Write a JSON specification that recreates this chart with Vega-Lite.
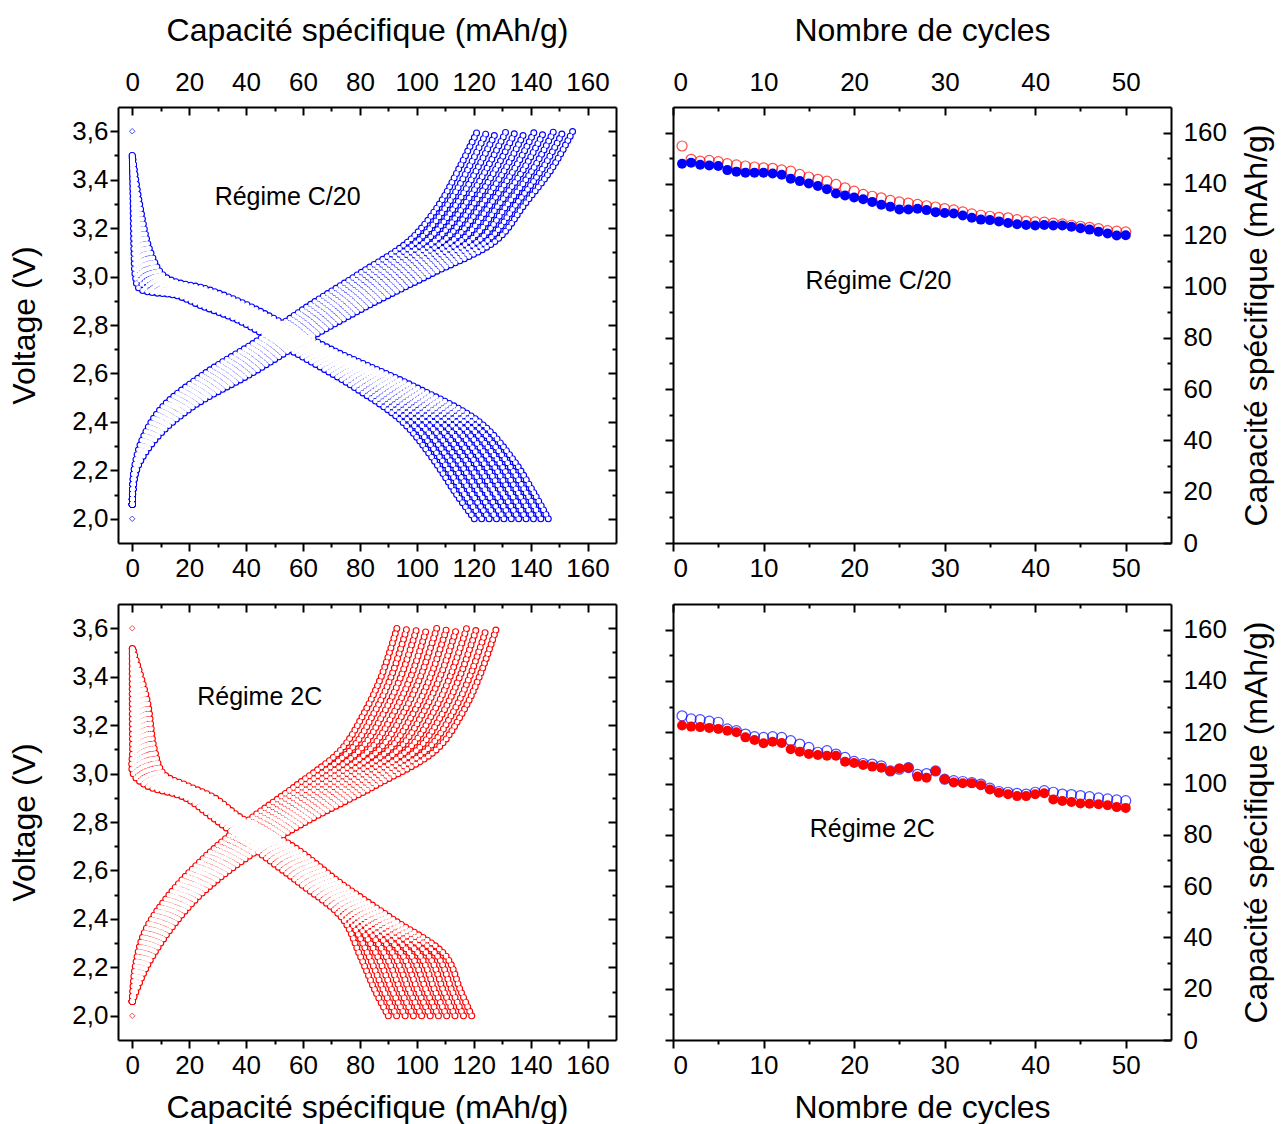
{
  "$schema": "https://vega.github.io/schema/vega-lite/v6.json",
  "padding": {"left": 8, "top": 14, "right": 8, "bottom": 6},
  "background": "white",
  "config": {
    "font": "Liberation Sans",
    "view": {"stroke": null},
    "axis": {
      "grid": false,
      "domainColor": "black",
      "domainWidth": 2,
      "tickColor": "black",
      "tickWidth": 2,
      "labelColor": "black",
      "titleColor": "black",
      "labelFont": "Liberation Sans",
      "titleFont": "Liberation Sans",
      "labelFontSize": 26,
      "titleFontSize": 32,
      "titleFontWeight": "normal"
    }
  },
  "datasets": {
    "c20": [
      {"c":50,"b":"c","q":0,"v":2.06},{"c":50,"b":"c","q":0.6,"v":2.2},{"c":50,"b":"c","q":3.6,"v":2.33},{"c":50,"b":"c","q":10.5,"v":2.46},{"c":50,"b":"c","q":25.5,"v":2.6},{"c":50,"b":"c","q":44.6,"v":2.74},{"c":50,"b":"c","q":62,"v":2.88},{"c":50,"b":"c","q":79.5,"v":3.01},{"c":50,"b":"c","q":97.5,"v":3.15},{"c":50,"b":"c","q":108,"v":3.3},{"c":50,"b":"c","q":115,"v":3.45},{"c":50,"b":"c","q":121.3,"v":3.6},
      {"c":45,"b":"c","q":0,"v":2.06},{"c":45,"b":"c","q":0.7,"v":2.2},{"c":45,"b":"c","q":4.1,"v":2.33},{"c":45,"b":"c","q":11.6,"v":2.46},{"c":45,"b":"c","q":27.2,"v":2.6},{"c":45,"b":"c","q":46.3,"v":2.74},{"c":45,"b":"c","q":64.1,"v":2.88},{"c":45,"b":"c","q":82.1,"v":3.01},{"c":45,"b":"c","q":100.6,"v":3.15},{"c":45,"b":"c","q":111,"v":3.3},{"c":45,"b":"c","q":118.3,"v":3.45},{"c":45,"b":"c","q":124.7,"v":3.6},
      {"c":40,"b":"c","q":0,"v":2.06},{"c":40,"b":"c","q":0.8,"v":2.2},{"c":40,"b":"c","q":4.5,"v":2.33},{"c":40,"b":"c","q":12.6,"v":2.46},{"c":40,"b":"c","q":28.8,"v":2.6},{"c":40,"b":"c","q":48,"v":2.74},{"c":40,"b":"c","q":66.2,"v":2.88},{"c":40,"b":"c","q":84.6,"v":3.01},{"c":40,"b":"c","q":103.6,"v":3.15},{"c":40,"b":"c","q":114,"v":3.3},{"c":40,"b":"c","q":121.5,"v":3.45},{"c":40,"b":"c","q":128,"v":3.6},
      {"c":35,"b":"c","q":0,"v":2.06},{"c":35,"b":"c","q":0.9,"v":2.2},{"c":35,"b":"c","q":5,"v":2.33},{"c":35,"b":"c","q":13.7,"v":2.46},{"c":35,"b":"c","q":30.5,"v":2.6},{"c":35,"b":"c","q":49.7,"v":2.74},{"c":35,"b":"c","q":68.3,"v":2.88},{"c":35,"b":"c","q":87.2,"v":3.01},{"c":35,"b":"c","q":106.7,"v":3.15},{"c":35,"b":"c","q":117,"v":3.3},{"c":35,"b":"c","q":124.8,"v":3.45},{"c":35,"b":"c","q":131.4,"v":3.6},
      {"c":30,"b":"c","q":0,"v":2.06},{"c":30,"b":"c","q":1,"v":2.2},{"c":30,"b":"c","q":5.5,"v":2.33},{"c":30,"b":"c","q":14.7,"v":2.46},{"c":30,"b":"c","q":32.1,"v":2.6},{"c":30,"b":"c","q":51.4,"v":2.74},{"c":30,"b":"c","q":70.4,"v":2.88},{"c":30,"b":"c","q":89.7,"v":3.01},{"c":30,"b":"c","q":109.7,"v":3.15},{"c":30,"b":"c","q":120,"v":3.3},{"c":30,"b":"c","q":128.1,"v":3.45},{"c":30,"b":"c","q":134.7,"v":3.6},
      {"c":25,"b":"c","q":0,"v":2.06},{"c":25,"b":"c","q":1.1,"v":2.2},{"c":25,"b":"c","q":6,"v":2.33},{"c":25,"b":"c","q":15.8,"v":2.46},{"c":25,"b":"c","q":33.8,"v":2.6},{"c":25,"b":"c","q":53.1,"v":2.74},{"c":25,"b":"c","q":72.5,"v":2.88},{"c":25,"b":"c","q":92.3,"v":3.01},{"c":25,"b":"c","q":112.8,"v":3.15},{"c":25,"b":"c","q":123,"v":3.3},{"c":25,"b":"c","q":131.4,"v":3.45},{"c":25,"b":"c","q":138.1,"v":3.6},
      {"c":20,"b":"c","q":0,"v":2.06},{"c":20,"b":"c","q":1.1,"v":2.2},{"c":20,"b":"c","q":6.4,"v":2.33},{"c":20,"b":"c","q":16.8,"v":2.46},{"c":20,"b":"c","q":35.4,"v":2.6},{"c":20,"b":"c","q":54.7,"v":2.74},{"c":20,"b":"c","q":74.6,"v":2.88},{"c":20,"b":"c","q":94.8,"v":3.01},{"c":20,"b":"c","q":115.8,"v":3.15},{"c":20,"b":"c","q":126,"v":3.3},{"c":20,"b":"c","q":134.6,"v":3.45},{"c":20,"b":"c","q":141.4,"v":3.6},
      {"c":15,"b":"c","q":0,"v":2.06},{"c":15,"b":"c","q":1.2,"v":2.2},{"c":15,"b":"c","q":6.9,"v":2.33},{"c":15,"b":"c","q":17.9,"v":2.46},{"c":15,"b":"c","q":37.1,"v":2.6},{"c":15,"b":"c","q":56.4,"v":2.74},{"c":15,"b":"c","q":76.7,"v":2.88},{"c":15,"b":"c","q":97.4,"v":3.01},{"c":15,"b":"c","q":118.9,"v":3.15},{"c":15,"b":"c","q":129,"v":3.3},{"c":15,"b":"c","q":137.9,"v":3.45},{"c":15,"b":"c","q":144.8,"v":3.6},
      {"c":10,"b":"c","q":0,"v":2.06},{"c":10,"b":"c","q":1.3,"v":2.2},{"c":10,"b":"c","q":7.4,"v":2.33},{"c":10,"b":"c","q":18.9,"v":2.46},{"c":10,"b":"c","q":38.7,"v":2.6},{"c":10,"b":"c","q":58.1,"v":2.74},{"c":10,"b":"c","q":78.8,"v":2.88},{"c":10,"b":"c","q":99.9,"v":3.01},{"c":10,"b":"c","q":121.9,"v":3.15},{"c":10,"b":"c","q":132,"v":3.3},{"c":10,"b":"c","q":141.2,"v":3.45},{"c":10,"b":"c","q":148.1,"v":3.6},
      {"c":5,"b":"c","q":0,"v":2.06},{"c":5,"b":"c","q":1.4,"v":2.2},{"c":5,"b":"c","q":7.8,"v":2.33},{"c":5,"b":"c","q":20,"v":2.46},{"c":5,"b":"c","q":40.4,"v":2.6},{"c":5,"b":"c","q":59.8,"v":2.74},{"c":5,"b":"c","q":80.9,"v":2.88},{"c":5,"b":"c","q":102.5,"v":3.01},{"c":5,"b":"c","q":125,"v":3.15},{"c":5,"b":"c","q":135,"v":3.3},{"c":5,"b":"c","q":144.4,"v":3.45},{"c":5,"b":"c","q":151.5,"v":3.6},
      {"c":1,"b":"c","q":0,"v":2.06},{"c":1,"b":"c","q":1.5,"v":2.2},{"c":1,"b":"c","q":8.3,"v":2.33},{"c":1,"b":"c","q":21,"v":2.46},{"c":1,"b":"c","q":42,"v":2.6},{"c":1,"b":"c","q":61.5,"v":2.74},{"c":1,"b":"c","q":83,"v":2.88},{"c":1,"b":"c","q":105,"v":3.01},{"c":1,"b":"c","q":128,"v":3.15},{"c":1,"b":"c","q":138,"v":3.3},{"c":1,"b":"c","q":147.7,"v":3.45},{"c":1,"b":"c","q":154.8,"v":3.6},
      {"c":50,"b":"d","q":0,"v":3.5},{"c":50,"b":"d","q":0.3,"v":3.3},{"c":50,"b":"d","q":0.6,"v":3.1},{"c":50,"b":"d","q":1.1,"v":3},{"c":50,"b":"d","q":2.5,"v":2.95},{"c":50,"b":"d","q":16,"v":2.92},{"c":50,"b":"d","q":24,"v":2.88},{"c":50,"b":"d","q":37,"v":2.82},{"c":50,"b":"d","q":55,"v":2.7},{"c":50,"b":"d","q":77,"v":2.55},{"c":50,"b":"d","q":95,"v":2.4},{"c":50,"b":"d","q":105.5,"v":2.25},{"c":50,"b":"d","q":114,"v":2.1},{"c":50,"b":"d","q":120.2,"v":2},
      {"c":45,"b":"d","q":0,"v":3.5},{"c":45,"b":"d","q":0.5,"v":3.3},{"c":45,"b":"d","q":1.2,"v":3.1},{"c":45,"b":"d","q":2.1,"v":3},{"c":45,"b":"d","q":4.9,"v":2.95},{"c":45,"b":"d","q":17.7,"v":2.92},{"c":45,"b":"d","q":25.7,"v":2.88},{"c":45,"b":"d","q":38.4,"v":2.82},{"c":45,"b":"d","q":56.5,"v":2.7},{"c":45,"b":"d","q":79.2,"v":2.55},{"c":45,"b":"d","q":97.7,"v":2.4},{"c":45,"b":"d","q":108.3,"v":2.25},{"c":45,"b":"d","q":116.8,"v":2.1},{"c":45,"b":"d","q":122.8,"v":2},
      {"c":40,"b":"d","q":0,"v":3.5},{"c":40,"b":"d","q":0.8,"v":3.3},{"c":40,"b":"d","q":1.8,"v":3.1},{"c":40,"b":"d","q":3.2,"v":3},{"c":40,"b":"d","q":7.2,"v":2.95},{"c":40,"b":"d","q":19.4,"v":2.92},{"c":40,"b":"d","q":27.4,"v":2.88},{"c":40,"b":"d","q":39.8,"v":2.82},{"c":40,"b":"d","q":58,"v":2.7},{"c":40,"b":"d","q":81.3,"v":2.55},{"c":40,"b":"d","q":100.4,"v":2.4},{"c":40,"b":"d","q":111.1,"v":2.25},{"c":40,"b":"d","q":119.5,"v":2.1},{"c":40,"b":"d","q":125.4,"v":2},
      {"c":35,"b":"d","q":0,"v":3.5},{"c":35,"b":"d","q":1,"v":3.3},{"c":35,"b":"d","q":2.4,"v":3.1},{"c":35,"b":"d","q":4.2,"v":3},{"c":35,"b":"d","q":9.6,"v":2.95},{"c":35,"b":"d","q":21.1,"v":2.92},{"c":35,"b":"d","q":29.1,"v":2.88},{"c":35,"b":"d","q":41.2,"v":2.82},{"c":35,"b":"d","q":59.5,"v":2.7},{"c":35,"b":"d","q":83.5,"v":2.55},{"c":35,"b":"d","q":103.1,"v":2.4},{"c":35,"b":"d","q":113.9,"v":2.25},{"c":35,"b":"d","q":122.3,"v":2.1},{"c":35,"b":"d","q":128,"v":2},
      {"c":30,"b":"d","q":0,"v":3.5},{"c":30,"b":"d","q":1.2,"v":3.3},{"c":30,"b":"d","q":3,"v":3.1},{"c":30,"b":"d","q":5.3,"v":3},{"c":30,"b":"d","q":11.9,"v":2.95},{"c":30,"b":"d","q":22.8,"v":2.92},{"c":30,"b":"d","q":30.8,"v":2.88},{"c":30,"b":"d","q":42.6,"v":2.82},{"c":30,"b":"d","q":61,"v":2.7},{"c":30,"b":"d","q":85.6,"v":2.55},{"c":30,"b":"d","q":105.8,"v":2.4},{"c":30,"b":"d","q":116.7,"v":2.25},{"c":30,"b":"d","q":125,"v":2.1},{"c":30,"b":"d","q":130.6,"v":2},
      {"c":25,"b":"d","q":0,"v":3.5},{"c":25,"b":"d","q":1.5,"v":3.3},{"c":25,"b":"d","q":3.6,"v":3.1},{"c":25,"b":"d","q":6.3,"v":3},{"c":25,"b":"d","q":14.3,"v":2.95},{"c":25,"b":"d","q":24.5,"v":2.92},{"c":25,"b":"d","q":32.5,"v":2.88},{"c":25,"b":"d","q":44,"v":2.82},{"c":25,"b":"d","q":62.5,"v":2.7},{"c":25,"b":"d","q":87.8,"v":2.55},{"c":25,"b":"d","q":108.5,"v":2.4},{"c":25,"b":"d","q":119.5,"v":2.25},{"c":25,"b":"d","q":127.8,"v":2.1},{"c":25,"b":"d","q":133.2,"v":2},
      {"c":20,"b":"d","q":0,"v":3.5},{"c":20,"b":"d","q":1.7,"v":3.3},{"c":20,"b":"d","q":4.1,"v":3.1},{"c":20,"b":"d","q":7.3,"v":3},{"c":20,"b":"d","q":16.6,"v":2.95},{"c":20,"b":"d","q":26.2,"v":2.92},{"c":20,"b":"d","q":34.2,"v":2.88},{"c":20,"b":"d","q":45.4,"v":2.82},{"c":20,"b":"d","q":64,"v":2.7},{"c":20,"b":"d","q":89.9,"v":2.55},{"c":20,"b":"d","q":111.2,"v":2.4},{"c":20,"b":"d","q":122.3,"v":2.25},{"c":20,"b":"d","q":130.5,"v":2.1},{"c":20,"b":"d","q":135.8,"v":2},
      {"c":15,"b":"d","q":0,"v":3.5},{"c":15,"b":"d","q":1.9,"v":3.3},{"c":15,"b":"d","q":4.7,"v":3.1},{"c":15,"b":"d","q":8.4,"v":3},{"c":15,"b":"d","q":19,"v":2.95},{"c":15,"b":"d","q":27.9,"v":2.92},{"c":15,"b":"d","q":35.9,"v":2.88},{"c":15,"b":"d","q":46.8,"v":2.82},{"c":15,"b":"d","q":65.5,"v":2.7},{"c":15,"b":"d","q":92.1,"v":2.55},{"c":15,"b":"d","q":113.9,"v":2.4},{"c":15,"b":"d","q":125.1,"v":2.25},{"c":15,"b":"d","q":133.3,"v":2.1},{"c":15,"b":"d","q":138.4,"v":2},
      {"c":10,"b":"d","q":0,"v":3.5},{"c":10,"b":"d","q":2.1,"v":3.3},{"c":10,"b":"d","q":5.3,"v":3.1},{"c":10,"b":"d","q":9.4,"v":3},{"c":10,"b":"d","q":21.3,"v":2.95},{"c":10,"b":"d","q":29.6,"v":2.92},{"c":10,"b":"d","q":37.6,"v":2.88},{"c":10,"b":"d","q":48.2,"v":2.82},{"c":10,"b":"d","q":67,"v":2.7},{"c":10,"b":"d","q":94.2,"v":2.55},{"c":10,"b":"d","q":116.6,"v":2.4},{"c":10,"b":"d","q":127.9,"v":2.25},{"c":10,"b":"d","q":136,"v":2.1},{"c":10,"b":"d","q":141,"v":2},
      {"c":5,"b":"d","q":0,"v":3.5},{"c":5,"b":"d","q":2.4,"v":3.3},{"c":5,"b":"d","q":5.9,"v":3.1},{"c":5,"b":"d","q":10.5,"v":3},{"c":5,"b":"d","q":23.7,"v":2.95},{"c":5,"b":"d","q":31.3,"v":2.92},{"c":5,"b":"d","q":39.3,"v":2.88},{"c":5,"b":"d","q":49.6,"v":2.82},{"c":5,"b":"d","q":68.5,"v":2.7},{"c":5,"b":"d","q":96.4,"v":2.55},{"c":5,"b":"d","q":119.3,"v":2.4},{"c":5,"b":"d","q":130.7,"v":2.25},{"c":5,"b":"d","q":138.8,"v":2.1},{"c":5,"b":"d","q":143.6,"v":2},
      {"c":1,"b":"d","q":0,"v":3.5},{"c":1,"b":"d","q":2.6,"v":3.3},{"c":1,"b":"d","q":6.5,"v":3.1},{"c":1,"b":"d","q":11.5,"v":3},{"c":1,"b":"d","q":26,"v":2.95},{"c":1,"b":"d","q":33,"v":2.92},{"c":1,"b":"d","q":41,"v":2.88},{"c":1,"b":"d","q":51,"v":2.82},{"c":1,"b":"d","q":70,"v":2.7},{"c":1,"b":"d","q":98.5,"v":2.55},{"c":1,"b":"d","q":122,"v":2.4},{"c":1,"b":"d","q":133.5,"v":2.25},{"c":1,"b":"d","q":141.5,"v":2.1},{"c":1,"b":"d","q":146.2,"v":2}
    ],
    "r2c": [
      {"c":50,"b":"c","q":0,"v":2.06},{"c":50,"b":"c","q":1,"v":2.2},{"c":50,"b":"c","q":4.5,"v":2.35},{"c":50,"b":"c","q":13,"v":2.5},{"c":50,"b":"c","q":25,"v":2.65},{"c":50,"b":"c","q":40,"v":2.8},{"c":50,"b":"c","q":57.5,"v":2.95},{"c":50,"b":"c","q":73.5,"v":3.1},{"c":50,"b":"c","q":81.5,"v":3.25},{"c":50,"b":"c","q":87.5,"v":3.4},{"c":50,"b":"c","q":93,"v":3.6},
      {"c":45,"b":"c","q":0,"v":2.06},{"c":45,"b":"c","q":1.4,"v":2.2},{"c":45,"b":"c","q":5.4,"v":2.35},{"c":45,"b":"c","q":14.1,"v":2.5},{"c":45,"b":"c","q":26.5,"v":2.65},{"c":45,"b":"c","q":42.1,"v":2.8},{"c":45,"b":"c","q":60.3,"v":2.95},{"c":45,"b":"c","q":76.9,"v":3.1},{"c":45,"b":"c","q":85,"v":3.25},{"c":45,"b":"c","q":91,"v":3.4},{"c":45,"b":"c","q":96.5,"v":3.6},
      {"c":40,"b":"c","q":0,"v":2.06},{"c":40,"b":"c","q":1.8,"v":2.2},{"c":40,"b":"c","q":6.2,"v":2.35},{"c":40,"b":"c","q":15.2,"v":2.5},{"c":40,"b":"c","q":28,"v":2.65},{"c":40,"b":"c","q":44.2,"v":2.8},{"c":40,"b":"c","q":63.1,"v":2.95},{"c":40,"b":"c","q":80.2,"v":3.1},{"c":40,"b":"c","q":88.4,"v":3.25},{"c":40,"b":"c","q":94.4,"v":3.4},{"c":40,"b":"c","q":100,"v":3.6},
      {"c":35,"b":"c","q":0,"v":2.06},{"c":35,"b":"c","q":2.2,"v":2.2},{"c":35,"b":"c","q":7.1,"v":2.35},{"c":35,"b":"c","q":16.3,"v":2.5},{"c":35,"b":"c","q":29.5,"v":2.65},{"c":35,"b":"c","q":46.3,"v":2.8},{"c":35,"b":"c","q":65.9,"v":2.95},{"c":35,"b":"c","q":83.6,"v":3.1},{"c":35,"b":"c","q":91.9,"v":3.25},{"c":35,"b":"c","q":97.9,"v":3.4},{"c":35,"b":"c","q":103.5,"v":3.6},
      {"c":30,"b":"c","q":0,"v":2.06},{"c":30,"b":"c","q":2.6,"v":2.2},{"c":30,"b":"c","q":7.9,"v":2.35},{"c":30,"b":"c","q":17.4,"v":2.5},{"c":30,"b":"c","q":31,"v":2.65},{"c":30,"b":"c","q":48.4,"v":2.8},{"c":30,"b":"c","q":68.7,"v":2.95},{"c":30,"b":"c","q":86.9,"v":3.1},{"c":30,"b":"c","q":95.3,"v":3.25},{"c":30,"b":"c","q":101.3,"v":3.4},{"c":30,"b":"c","q":107,"v":3.6},
      {"c":25,"b":"c","q":0,"v":2.06},{"c":25,"b":"c","q":3,"v":2.2},{"c":25,"b":"c","q":8.8,"v":2.35},{"c":25,"b":"c","q":18.5,"v":2.5},{"c":25,"b":"c","q":32.5,"v":2.65},{"c":25,"b":"c","q":50.5,"v":2.8},{"c":25,"b":"c","q":71.5,"v":2.95},{"c":25,"b":"c","q":90.3,"v":3.1},{"c":25,"b":"c","q":98.8,"v":3.25},{"c":25,"b":"c","q":104.8,"v":3.4},{"c":25,"b":"c","q":110.5,"v":3.6},
      {"c":20,"b":"c","q":0,"v":2.06},{"c":20,"b":"c","q":3.4,"v":2.2},{"c":20,"b":"c","q":9.6,"v":2.35},{"c":20,"b":"c","q":19.6,"v":2.5},{"c":20,"b":"c","q":34,"v":2.65},{"c":20,"b":"c","q":52.6,"v":2.8},{"c":20,"b":"c","q":74.3,"v":2.95},{"c":20,"b":"c","q":93.6,"v":3.1},{"c":20,"b":"c","q":102.2,"v":3.25},{"c":20,"b":"c","q":108.2,"v":3.4},{"c":20,"b":"c","q":114,"v":3.6},
      {"c":15,"b":"c","q":0,"v":2.06},{"c":15,"b":"c","q":3.8,"v":2.2},{"c":15,"b":"c","q":10.5,"v":2.35},{"c":15,"b":"c","q":20.7,"v":2.5},{"c":15,"b":"c","q":35.5,"v":2.65},{"c":15,"b":"c","q":54.7,"v":2.8},{"c":15,"b":"c","q":77.1,"v":2.95},{"c":15,"b":"c","q":97,"v":3.1},{"c":15,"b":"c","q":105.7,"v":3.25},{"c":15,"b":"c","q":111.7,"v":3.4},{"c":15,"b":"c","q":117.5,"v":3.6},
      {"c":10,"b":"c","q":0,"v":2.06},{"c":10,"b":"c","q":4.2,"v":2.2},{"c":10,"b":"c","q":11.3,"v":2.35},{"c":10,"b":"c","q":21.8,"v":2.5},{"c":10,"b":"c","q":37,"v":2.65},{"c":10,"b":"c","q":56.8,"v":2.8},{"c":10,"b":"c","q":79.9,"v":2.95},{"c":10,"b":"c","q":100.3,"v":3.1},{"c":10,"b":"c","q":109.1,"v":3.25},{"c":10,"b":"c","q":115.1,"v":3.4},{"c":10,"b":"c","q":121,"v":3.6},
      {"c":5,"b":"c","q":0,"v":2.06},{"c":5,"b":"c","q":4.6,"v":2.2},{"c":5,"b":"c","q":12.2,"v":2.35},{"c":5,"b":"c","q":22.9,"v":2.5},{"c":5,"b":"c","q":38.5,"v":2.65},{"c":5,"b":"c","q":58.9,"v":2.8},{"c":5,"b":"c","q":82.7,"v":2.95},{"c":5,"b":"c","q":103.7,"v":3.1},{"c":5,"b":"c","q":112.6,"v":3.25},{"c":5,"b":"c","q":118.6,"v":3.4},{"c":5,"b":"c","q":124.5,"v":3.6},
      {"c":1,"b":"c","q":0,"v":2.06},{"c":1,"b":"c","q":5,"v":2.2},{"c":1,"b":"c","q":13,"v":2.35},{"c":1,"b":"c","q":24,"v":2.5},{"c":1,"b":"c","q":40,"v":2.65},{"c":1,"b":"c","q":61,"v":2.8},{"c":1,"b":"c","q":85.5,"v":2.95},{"c":1,"b":"c","q":107,"v":3.1},{"c":1,"b":"c","q":116,"v":3.25},{"c":1,"b":"c","q":122,"v":3.4},{"c":1,"b":"c","q":128,"v":3.6},
      {"c":50,"b":"d","q":0,"v":3.52},{"c":50,"b":"d","q":0,"v":3.3},{"c":50,"b":"d","q":0.1,"v":3.1},{"c":50,"b":"d","q":0.3,"v":3},{"c":50,"b":"d","q":5,"v":2.95},{"c":50,"b":"d","q":18.5,"v":2.9},{"c":50,"b":"d","q":28,"v":2.82},{"c":50,"b":"d","q":41.5,"v":2.7},{"c":50,"b":"d","q":58.5,"v":2.55},{"c":50,"b":"d","q":74,"v":2.4},{"c":50,"b":"d","q":80,"v":2.25},{"c":50,"b":"d","q":85.5,"v":2.1},{"c":50,"b":"d","q":90,"v":2},
      {"c":45,"b":"d","q":0,"v":3.52},{"c":45,"b":"d","q":0.5,"v":3.3},{"c":45,"b":"d","q":0.9,"v":3.1},{"c":45,"b":"d","q":1.4,"v":3},{"c":45,"b":"d","q":6.5,"v":2.95},{"c":45,"b":"d","q":19.6,"v":2.9},{"c":45,"b":"d","q":29,"v":2.82},{"c":45,"b":"d","q":43,"v":2.7},{"c":45,"b":"d","q":60,"v":2.55},{"c":45,"b":"d","q":75.8,"v":2.4},{"c":45,"b":"d","q":83,"v":2.25},{"c":45,"b":"d","q":88.5,"v":2.1},{"c":45,"b":"d","q":92.9,"v":2},
      {"c":40,"b":"d","q":0,"v":3.52},{"c":40,"b":"d","q":1.1,"v":3.3},{"c":40,"b":"d","q":1.6,"v":3.1},{"c":40,"b":"d","q":2.4,"v":3},{"c":40,"b":"d","q":7.9,"v":2.95},{"c":40,"b":"d","q":20.6,"v":2.9},{"c":40,"b":"d","q":30,"v":2.82},{"c":40,"b":"d","q":44.5,"v":2.7},{"c":40,"b":"d","q":61.4,"v":2.55},{"c":40,"b":"d","q":77.5,"v":2.4},{"c":40,"b":"d","q":86,"v":2.25},{"c":40,"b":"d","q":91.5,"v":2.1},{"c":40,"b":"d","q":95.9,"v":2},
      {"c":35,"b":"d","q":0,"v":3.52},{"c":35,"b":"d","q":1.6,"v":3.3},{"c":35,"b":"d","q":2.4,"v":3.1},{"c":35,"b":"d","q":3.5,"v":3},{"c":35,"b":"d","q":9.4,"v":2.95},{"c":35,"b":"d","q":21.7,"v":2.9},{"c":35,"b":"d","q":31,"v":2.82},{"c":35,"b":"d","q":46,"v":2.7},{"c":35,"b":"d","q":62.9,"v":2.55},{"c":35,"b":"d","q":79.3,"v":2.4},{"c":35,"b":"d","q":89,"v":2.25},{"c":35,"b":"d","q":94.5,"v":2.1},{"c":35,"b":"d","q":98.8,"v":2},
      {"c":30,"b":"d","q":0,"v":3.52},{"c":30,"b":"d","q":2.1,"v":3.3},{"c":30,"b":"d","q":3.2,"v":3.1},{"c":30,"b":"d","q":4.6,"v":3},{"c":30,"b":"d","q":10.8,"v":2.95},{"c":30,"b":"d","q":22.7,"v":2.9},{"c":30,"b":"d","q":32,"v":2.82},{"c":30,"b":"d","q":47.5,"v":2.7},{"c":30,"b":"d","q":64.3,"v":2.55},{"c":30,"b":"d","q":81,"v":2.4},{"c":30,"b":"d","q":92,"v":2.25},{"c":30,"b":"d","q":97.5,"v":2.1},{"c":30,"b":"d","q":101.7,"v":2},
      {"c":25,"b":"d","q":0,"v":3.52},{"c":25,"b":"d","q":2.7,"v":3.3},{"c":25,"b":"d","q":4,"v":3.1},{"c":25,"b":"d","q":5.7,"v":3},{"c":25,"b":"d","q":12.3,"v":2.95},{"c":25,"b":"d","q":23.8,"v":2.9},{"c":25,"b":"d","q":33,"v":2.82},{"c":25,"b":"d","q":49,"v":2.7},{"c":25,"b":"d","q":65.8,"v":2.55},{"c":25,"b":"d","q":82.8,"v":2.4},{"c":25,"b":"d","q":95,"v":2.25},{"c":25,"b":"d","q":100.5,"v":2.1},{"c":25,"b":"d","q":104.7,"v":2},
      {"c":20,"b":"d","q":0,"v":3.52},{"c":20,"b":"d","q":3.2,"v":3.3},{"c":20,"b":"d","q":4.7,"v":3.1},{"c":20,"b":"d","q":6.7,"v":3},{"c":20,"b":"d","q":13.7,"v":2.95},{"c":20,"b":"d","q":24.8,"v":2.9},{"c":20,"b":"d","q":34,"v":2.82},{"c":20,"b":"d","q":50.5,"v":2.7},{"c":20,"b":"d","q":67.2,"v":2.55},{"c":20,"b":"d","q":84.5,"v":2.4},{"c":20,"b":"d","q":98,"v":2.25},{"c":20,"b":"d","q":103.5,"v":2.1},{"c":20,"b":"d","q":107.6,"v":2},
      {"c":15,"b":"d","q":0,"v":3.52},{"c":15,"b":"d","q":3.7,"v":3.3},{"c":15,"b":"d","q":5.5,"v":3.1},{"c":15,"b":"d","q":7.8,"v":3},{"c":15,"b":"d","q":15.2,"v":2.95},{"c":15,"b":"d","q":25.9,"v":2.9},{"c":15,"b":"d","q":35,"v":2.82},{"c":15,"b":"d","q":52,"v":2.7},{"c":15,"b":"d","q":68.7,"v":2.55},{"c":15,"b":"d","q":86.3,"v":2.4},{"c":15,"b":"d","q":101,"v":2.25},{"c":15,"b":"d","q":106.5,"v":2.1},{"c":15,"b":"d","q":110.5,"v":2},
      {"c":10,"b":"d","q":0,"v":3.52},{"c":10,"b":"d","q":4.2,"v":3.3},{"c":10,"b":"d","q":6.3,"v":3.1},{"c":10,"b":"d","q":8.9,"v":3},{"c":10,"b":"d","q":16.6,"v":2.95},{"c":10,"b":"d","q":26.9,"v":2.9},{"c":10,"b":"d","q":36,"v":2.82},{"c":10,"b":"d","q":53.5,"v":2.7},{"c":10,"b":"d","q":70.1,"v":2.55},{"c":10,"b":"d","q":88,"v":2.4},{"c":10,"b":"d","q":104,"v":2.25},{"c":10,"b":"d","q":109.5,"v":2.1},{"c":10,"b":"d","q":113.4,"v":2},
      {"c":5,"b":"d","q":0,"v":3.52},{"c":5,"b":"d","q":4.8,"v":3.3},{"c":5,"b":"d","q":7,"v":3.1},{"c":5,"b":"d","q":9.9,"v":3},{"c":5,"b":"d","q":18.1,"v":2.95},{"c":5,"b":"d","q":28,"v":2.9},{"c":5,"b":"d","q":37,"v":2.82},{"c":5,"b":"d","q":55,"v":2.7},{"c":5,"b":"d","q":71.6,"v":2.55},{"c":5,"b":"d","q":89.8,"v":2.4},{"c":5,"b":"d","q":107,"v":2.25},{"c":5,"b":"d","q":112.5,"v":2.1},{"c":5,"b":"d","q":116.4,"v":2},
      {"c":1,"b":"d","q":0,"v":3.52},{"c":1,"b":"d","q":5.3,"v":3.3},{"c":1,"b":"d","q":7.8,"v":3.1},{"c":1,"b":"d","q":11,"v":3},{"c":1,"b":"d","q":19.5,"v":2.95},{"c":1,"b":"d","q":29,"v":2.9},{"c":1,"b":"d","q":38,"v":2.82},{"c":1,"b":"d","q":56.5,"v":2.7},{"c":1,"b":"d","q":73,"v":2.55},{"c":1,"b":"d","q":91.5,"v":2.4},{"c":1,"b":"d","q":110,"v":2.25},{"c":1,"b":"d","q":115.5,"v":2.1},{"c":1,"b":"d","q":119.3,"v":2}
    ],
    "ends": [{"q":0,"v":2.0},{"q":0,"v":3.6}],
    "trc": [
      {"n":1,"y":154.8},{"n":2,"y":149.6},{"n":3,"y":148.9},{"n":4,"y":149.2},{"n":5,"y":148.7},{"n":6,"y":147.9},{"n":7,"y":147.4},{"n":8,"y":147.0},{"n":9,"y":146.6},{"n":10,"y":146.3},
      {"n":11,"y":146.1},{"n":12,"y":145.5},{"n":13,"y":145.0},{"n":14,"y":143.7},{"n":15,"y":142.7},{"n":16,"y":141.8},{"n":17,"y":141.1},{"n":18,"y":139.8},{"n":19,"y":138.5},{"n":20,"y":137.2},
      {"n":21,"y":135.9},{"n":22,"y":135.2},{"n":23,"y":134.6},{"n":24,"y":133.6},{"n":25,"y":133.0},{"n":26,"y":132.5},{"n":27,"y":132.0},{"n":28,"y":131.5},{"n":29,"y":131.0},{"n":30,"y":130.4},
      {"n":31,"y":129.9},{"n":32,"y":129.1},{"n":33,"y":128.3},{"n":34,"y":127.8},{"n":35,"y":127.4},{"n":36,"y":127.0},{"n":37,"y":126.8},{"n":38,"y":126.1},{"n":39,"y":125.5},{"n":40,"y":125.2},
      {"n":41,"y":125.1},{"n":42,"y":124.7},{"n":43,"y":124.4},{"n":44,"y":123.9},{"n":45,"y":123.5},{"n":46,"y":123.1},{"n":47,"y":122.6},{"n":48,"y":121.8},{"n":49,"y":121.6},{"n":50,"y":121.3}
    ],
    "trd": [
      {"n":1,"y":147.9},{"n":2,"y":148.3},{"n":3,"y":147.5},{"n":4,"y":147.2},{"n":5,"y":147.0},{"n":6,"y":145.4},{"n":7,"y":144.8},{"n":8,"y":144.4},{"n":9,"y":144.4},{"n":10,"y":144.4},
      {"n":11,"y":144.1},{"n":12,"y":143.6},{"n":13,"y":142.0},{"n":14,"y":141.1},{"n":15,"y":140.2},{"n":16,"y":139.2},{"n":17,"y":137.9},{"n":18,"y":136.3},{"n":19,"y":135.5},{"n":20,"y":134.7},
      {"n":21,"y":134.0},{"n":22,"y":133.0},{"n":23,"y":131.9},{"n":24,"y":131.1},{"n":25,"y":130.0},{"n":26,"y":130.0},{"n":27,"y":130.3},{"n":28,"y":129.8},{"n":29,"y":129.0},{"n":30,"y":128.7},
      {"n":31,"y":128.5},{"n":32,"y":127.7},{"n":33,"y":126.8},{"n":34,"y":126.1},{"n":35,"y":125.9},{"n":36,"y":125.4},{"n":37,"y":124.8},{"n":38,"y":124.3},{"n":39,"y":124.0},{"n":40,"y":123.8},
      {"n":41,"y":124.0},{"n":42,"y":123.8},{"n":43,"y":123.8},{"n":44,"y":123.3},{"n":45,"y":122.7},{"n":46,"y":122.2},{"n":47,"y":121.4},{"n":48,"y":120.7},{"n":49,"y":119.9},{"n":50,"y":120.0}
    ],
    "brc": [
      {"n":1,"y":126.4},{"n":2,"y":125.2},{"n":3,"y":124.9},{"n":4,"y":124.3},{"n":5,"y":123.9},{"n":6,"y":121.3},{"n":7,"y":120.6},{"n":8,"y":119.3},{"n":9,"y":118.3},{"n":10,"y":118.0},
      {"n":11,"y":118.3},{"n":12,"y":118.0},{"n":13,"y":116.7},{"n":14,"y":115.4},{"n":15,"y":114.1},{"n":16,"y":112.2},{"n":17,"y":112.8},{"n":18,"y":111.5},{"n":19,"y":110.2},{"n":20,"y":108.6},
      {"n":21,"y":107.8},{"n":22,"y":107.6},{"n":23,"y":106.9},{"n":24,"y":104.9},{"n":25,"y":105.6},{"n":26,"y":106.2},{"n":27,"y":103.6},{"n":28,"y":103.9},{"n":29,"y":104.9},{"n":30,"y":101.7},
      {"n":31,"y":101.1},{"n":32,"y":100.8},{"n":33,"y":100.4},{"n":34,"y":99.8},{"n":35,"y":98.2},{"n":36,"y":96.9},{"n":37,"y":96.6},{"n":38,"y":96.2},{"n":39,"y":95.9},{"n":40,"y":96.6},
      {"n":41,"y":97.2},{"n":42,"y":96.6},{"n":43,"y":95.9},{"n":44,"y":95.7},{"n":45,"y":95.3},{"n":46,"y":94.9},{"n":47,"y":94.4},{"n":48,"y":94.0},{"n":49,"y":93.6},{"n":50,"y":93.3}
    ],
    "brd": [
      {"n":1,"y":122.6},{"n":2,"y":122.2},{"n":3,"y":122.0},{"n":4,"y":121.7},{"n":5,"y":121.3},{"n":6,"y":120.6},{"n":7,"y":120.0},{"n":8,"y":118.0},{"n":9,"y":117.0},{"n":10,"y":115.7},
      {"n":11,"y":116.3},{"n":12,"y":115.8},{"n":13,"y":113.4},{"n":14,"y":112.4},{"n":15,"y":111.5},{"n":16,"y":111.1},{"n":17,"y":110.8},{"n":18,"y":110.8},{"n":19,"y":108.5},{"n":20,"y":108.0},
      {"n":21,"y":107.2},{"n":22,"y":106.6},{"n":23,"y":106.2},{"n":24,"y":104.9},{"n":25,"y":105.9},{"n":26,"y":106.2},{"n":27,"y":102.7},{"n":28,"y":102.3},{"n":29,"y":104.9},{"n":30,"y":101.7},
      {"n":31,"y":100.4},{"n":32,"y":100.1},{"n":33,"y":100.1},{"n":34,"y":99.3},{"n":35,"y":97.7},{"n":36,"y":96.4},{"n":37,"y":95.8},{"n":38,"y":95.1},{"n":39,"y":95.1},{"n":40,"y":95.8},
      {"n":41,"y":96.2},{"n":42,"y":93.8},{"n":43,"y":93.2},{"n":44,"y":92.8},{"n":45,"y":92.2},{"n":46,"y":92.1},{"n":47,"y":91.9},{"n":48,"y":91.5},{"n":49,"y":90.8},{"n":50,"y":90.5}
    ]
  },
  "columns": 2,
  "bounds": "flush",
  "spacing": {"row": 61, "column": 57},
  "concat": [
    {
      "width": 498, "height": 436,
      "resolve": {"axis": {"x": "independent", "y": "independent"}},
      "layer": [
        {
          "data": {"name": "c20"},
          "mark": {"type": "line", "interpolate": "catmull-rom", "stroke": "#0000ff", "strokeWidth": 7, "strokeDash": [0, 5], "strokeCap": "round"},
          "encoding": {
            "x": {"field": "q", "type": "quantitative", "scale": {"domain": [-5, 170], "nice": false, "zero": false},
                  "axis": {"orient": "bottom", "values": [0,20,40,60,80,100,120,140,160], "tickSize": 8, "labelPadding": 4, "title": null}},
            "y": {"field": "v", "type": "quantitative", "scale": {"domain": [1.9, 3.7], "nice": false, "zero": false},
                  "axis": {"orient": "left", "values": [2,2.2,2.4,2.6,2.8,3,3.2,3.4,3.6], "tickSize": 8, "labelPadding": 2, "labelExpr": "replace(format(datum.value, '.1f'), '.', ',')", "title": "Voltage (V)", "titlePadding": 30}},
            "detail": [{"field": "c"}, {"field": "b"}],
            "order": {"field": "v"}
          }
        },
        {
          "data": {"name": "c20"},
          "mark": {"type": "line", "interpolate": "catmull-rom", "stroke": "white", "strokeWidth": 4.8, "strokeDash": [0, 5], "strokeCap": "round"},
          "encoding": {
            "x": {"field": "q", "type": "quantitative", "scale": {"domain": [-5, 170], "nice": false, "zero": false},
                  "axis": {"orient": "top", "values": [0,20,40,60,80,100,120,140,160], "tickSize": -8, "labelPadding": 20, "title": "Capacité spécifique (mAh/g)", "titlePadding": 22}},
            "y": {"field": "v", "type": "quantitative", "scale": {"domain": [1.9, 3.7], "nice": false, "zero": false},
                  "axis": {"orient": "right", "values": [2,2.2,2.4,2.6,2.8,3,3.2,3.4,3.6], "tickSize": -8, "labels": false, "title": null}},
            "detail": [{"field": "c"}, {"field": "b"}],
            "order": {"field": "v"}
          }
        },
        {
          "data": {"name": "ends"},
          "mark": {"type": "point", "shape": "diamond", "filled": false, "stroke": "#0000ff", "strokeWidth": 1, "size": 30},
          "encoding": {
            "x": {"field": "q", "type": "quantitative", "scale": {"domain": [-5, 170], "nice": false, "zero": false},
                  "axis": {"orient": "bottom", "values": [10,30,50,70,90,110,130,150], "tickSize": 4, "labels": false, "domain": false, "title": null}},
            "y": {"field": "v", "type": "quantitative", "scale": {"domain": [1.9, 3.7], "nice": false, "zero": false},
                  "axis": {"orient": "left", "values": [2.1,2.3,2.5,2.7,2.9,3.1,3.3,3.5], "tickSize": 4, "labels": false, "domain": false, "title": null}}
          }
        },
        {
          "data": {"values": [{"q": 54.6, "v": 3.33, "t": "Régime C/20"}]},
          "mark": {"type": "text", "fontSize": 25, "color": "black", "align": "center", "baseline": "middle"},
          "encoding": {
            "x": {"field": "q", "type": "quantitative", "scale": {"domain": [-5, 170], "nice": false, "zero": false},
                  "axis": {"orient": "top", "values": [10,30,50,70,90,110,130,150], "tickSize": -4, "labels": false, "domain": false, "title": null}},
            "y": {"field": "v", "type": "quantitative", "scale": {"domain": [1.9, 3.7], "nice": false, "zero": false},
                  "axis": {"orient": "right", "values": [2.1,2.3,2.5,2.7,2.9,3.1,3.3,3.5], "tickSize": -4, "labels": false, "domain": false, "title": null}},
            "text": {"field": "t"}
          }
        }
      ]
    },
    {
      "width": 498, "height": 436,
      "resolve": {"axis": {"x": "independent", "y": "independent"}},
      "layer": [
        {
          "data": {"name": "trc"},
          "mark": {"type": "point", "shape": "circle", "filled": false, "stroke": "#ff0000", "strokeWidth": 1.2, "size": 100},
          "encoding": {
            "x": {"field": "n", "type": "quantitative", "scale": {"domain": [0, 55], "nice": false, "zero": false},
                  "axis": {"orient": "top", "values": [0,10,20,30,40,50], "tickSize": -8, "labelPadding": 20, "title": "Nombre de cycles", "titlePadding": 22}},
            "y": {"field": "y", "type": "quantitative", "scale": {"domain": [0, 170], "nice": false, "zero": false},
                  "axis": {"orient": "left", "values": [0,20,40,60,80,100,120,140,160], "tickSize": 8, "labels": false, "title": null}}
          }
        },
        {
          "data": {"name": "trd"},
          "mark": {"type": "point", "shape": "circle", "filled": true, "color": "#0000ff", "opacity": 1, "size": 100},
          "encoding": {
            "x": {"field": "n", "type": "quantitative", "scale": {"domain": [0, 55], "nice": false, "zero": false},
                  "axis": {"orient": "bottom", "values": [0,10,20,30,40,50], "tickSize": 8, "labelPadding": 4, "title": null}},
            "y": {"field": "y", "type": "quantitative", "scale": {"domain": [0, 170], "nice": false, "zero": false},
                  "axis": {"orient": "right", "values": [0,20,40,60,80,100,120,140,160], "tickSize": -8, "labelPadding": 20, "title": "Capacité spécifique (mAh/g)", "titleAngle": -90, "titleBaseline": "top", "titlePadding": 15}}
          }
        },
        {
          "data": {"values": [{"n": 22.7, "y": 102.3, "t": "Régime C/20"}]},
          "mark": {"type": "text", "fontSize": 25, "color": "black", "align": "center", "baseline": "middle"},
          "encoding": {
            "x": {"field": "n", "type": "quantitative", "scale": {"domain": [0, 55], "nice": false, "zero": false},
                  "axis": {"orient": "top", "values": [5,15,25,35,45], "tickSize": -4, "labels": false, "domain": false, "title": null}},
            "y": {"field": "y", "type": "quantitative", "scale": {"domain": [0, 170], "nice": false, "zero": false},
                  "axis": {"orient": "left", "values": [10,30,50,70,90,110,130,150], "tickSize": 4, "labels": false, "domain": false, "title": null}},
            "text": {"field": "t"}
          }
        },
        {
          "data": {"name": "trd"},
          "mark": {"type": "point", "opacity": 0},
          "encoding": {
            "x": {"field": "n", "type": "quantitative", "scale": {"domain": [0, 55], "nice": false, "zero": false},
                  "axis": {"orient": "bottom", "values": [5,15,25,35,45], "tickSize": 4, "labels": false, "domain": false, "title": null}},
            "y": {"field": "y", "type": "quantitative", "scale": {"domain": [0, 170], "nice": false, "zero": false},
                  "axis": {"orient": "right", "values": [10,30,50,70,90,110,130,150], "tickSize": -4, "labels": false, "domain": false, "title": null}}
          }
        }
      ]
    },
    {
      "width": 498, "height": 436,
      "resolve": {"axis": {"x": "independent", "y": "independent"}},
      "layer": [
        {
          "data": {"name": "r2c"},
          "mark": {"type": "line", "interpolate": "catmull-rom", "stroke": "#ff0000", "strokeWidth": 7, "strokeDash": [0, 5], "strokeCap": "round"},
          "encoding": {
            "x": {"field": "q", "type": "quantitative", "scale": {"domain": [-5, 170], "nice": false, "zero": false},
                  "axis": {"orient": "bottom", "values": [0,20,40,60,80,100,120,140,160], "tickSize": 8, "labelPadding": 4, "title": "Capacité spécifique (mAh/g)", "titlePadding": 14}},
            "y": {"field": "v", "type": "quantitative", "scale": {"domain": [1.9, 3.7], "nice": false, "zero": false},
                  "axis": {"orient": "left", "values": [2,2.2,2.4,2.6,2.8,3,3.2,3.4,3.6], "tickSize": 8, "labelPadding": 2, "labelExpr": "replace(format(datum.value, '.1f'), '.', ',')", "title": "Voltage (V)", "titlePadding": 30}},
            "detail": [{"field": "c"}, {"field": "b"}],
            "order": {"field": "v"}
          }
        },
        {
          "data": {"name": "r2c"},
          "mark": {"type": "line", "interpolate": "catmull-rom", "stroke": "white", "strokeWidth": 4.8, "strokeDash": [0, 5], "strokeCap": "round"},
          "encoding": {
            "x": {"field": "q", "type": "quantitative", "scale": {"domain": [-5, 170], "nice": false, "zero": false},
                  "axis": {"orient": "top", "values": [0,20,40,60,80,100,120,140,160], "tickSize": -8, "labels": false, "title": null}},
            "y": {"field": "v", "type": "quantitative", "scale": {"domain": [1.9, 3.7], "nice": false, "zero": false},
                  "axis": {"orient": "right", "values": [2,2.2,2.4,2.6,2.8,3,3.2,3.4,3.6], "tickSize": -8, "labels": false, "title": null}},
            "detail": [{"field": "c"}, {"field": "b"}],
            "order": {"field": "v"}
          }
        },
        {
          "data": {"name": "ends"},
          "mark": {"type": "point", "shape": "diamond", "filled": false, "stroke": "#ff0000", "strokeWidth": 1, "size": 30},
          "encoding": {
            "x": {"field": "q", "type": "quantitative", "scale": {"domain": [-5, 170], "nice": false, "zero": false},
                  "axis": {"orient": "bottom", "values": [10,30,50,70,90,110,130,150], "tickSize": 4, "labels": false, "domain": false, "title": null}},
            "y": {"field": "v", "type": "quantitative", "scale": {"domain": [1.9, 3.7], "nice": false, "zero": false},
                  "axis": {"orient": "left", "values": [2.1,2.3,2.5,2.7,2.9,3.1,3.3,3.5], "tickSize": 4, "labels": false, "domain": false, "title": null}}
          }
        },
        {
          "data": {"values": [{"q": 44.8, "v": 3.315, "t": "Régime 2C"}]},
          "mark": {"type": "text", "fontSize": 25, "color": "black", "align": "center", "baseline": "middle"},
          "encoding": {
            "x": {"field": "q", "type": "quantitative", "scale": {"domain": [-5, 170], "nice": false, "zero": false},
                  "axis": {"orient": "top", "values": [10,30,50,70,90,110,130,150], "tickSize": -4, "labels": false, "domain": false, "title": null}},
            "y": {"field": "v", "type": "quantitative", "scale": {"domain": [1.9, 3.7], "nice": false, "zero": false},
                  "axis": {"orient": "right", "values": [2.1,2.3,2.5,2.7,2.9,3.1,3.3,3.5], "tickSize": -4, "labels": false, "domain": false, "title": null}},
            "text": {"field": "t"}
          }
        }
      ]
    },
    {
      "width": 498, "height": 436,
      "resolve": {"axis": {"x": "independent", "y": "independent"}},
      "layer": [
        {
          "data": {"name": "brc"},
          "mark": {"type": "point", "shape": "circle", "filled": false, "stroke": "#0000ff", "strokeWidth": 1.2, "size": 100},
          "encoding": {
            "x": {"field": "n", "type": "quantitative", "scale": {"domain": [0, 55], "nice": false, "zero": false},
                  "axis": {"orient": "top", "values": [0,10,20,30,40,50], "tickSize": -8, "labels": false, "title": null}},
            "y": {"field": "y", "type": "quantitative", "scale": {"domain": [0, 170], "nice": false, "zero": false},
                  "axis": {"orient": "left", "values": [0,20,40,60,80,100,120,140,160], "tickSize": 8, "labels": false, "title": null}}
          }
        },
        {
          "data": {"name": "brd"},
          "mark": {"type": "point", "shape": "circle", "filled": true, "color": "#ff0000", "opacity": 1, "size": 100},
          "encoding": {
            "x": {"field": "n", "type": "quantitative", "scale": {"domain": [0, 55], "nice": false, "zero": false},
                  "axis": {"orient": "bottom", "values": [0,10,20,30,40,50], "tickSize": 8, "labelPadding": 4, "title": "Nombre de cycles", "titlePadding": 14}},
            "y": {"field": "y", "type": "quantitative", "scale": {"domain": [0, 170], "nice": false, "zero": false},
                  "axis": {"orient": "right", "values": [0,20,40,60,80,100,120,140,160], "tickSize": -8, "labelPadding": 20, "title": "Capacité spécifique (mAh/g)", "titleAngle": -90, "titleBaseline": "top", "titlePadding": 15}}
          }
        },
        {
          "data": {"values": [{"n": 22.0, "y": 82.4, "t": "Régime 2C"}]},
          "mark": {"type": "text", "fontSize": 25, "color": "black", "align": "center", "baseline": "middle"},
          "encoding": {
            "x": {"field": "n", "type": "quantitative", "scale": {"domain": [0, 55], "nice": false, "zero": false},
                  "axis": {"orient": "top", "values": [5,15,25,35,45], "tickSize": -4, "labels": false, "domain": false, "title": null}},
            "y": {"field": "y", "type": "quantitative", "scale": {"domain": [0, 170], "nice": false, "zero": false},
                  "axis": {"orient": "left", "values": [10,30,50,70,90,110,130,150], "tickSize": 4, "labels": false, "domain": false, "title": null}},
            "text": {"field": "t"}
          }
        },
        {
          "data": {"name": "brd"},
          "mark": {"type": "point", "opacity": 0},
          "encoding": {
            "x": {"field": "n", "type": "quantitative", "scale": {"domain": [0, 55], "nice": false, "zero": false},
                  "axis": {"orient": "bottom", "values": [5,15,25,35,45], "tickSize": 4, "labels": false, "domain": false, "title": null}},
            "y": {"field": "y", "type": "quantitative", "scale": {"domain": [0, 170], "nice": false, "zero": false},
                  "axis": {"orient": "right", "values": [10,30,50,70,90,110,130,150], "tickSize": -4, "labels": false, "domain": false, "title": null}}
          }
        }
      ]
    }
  ]
}
